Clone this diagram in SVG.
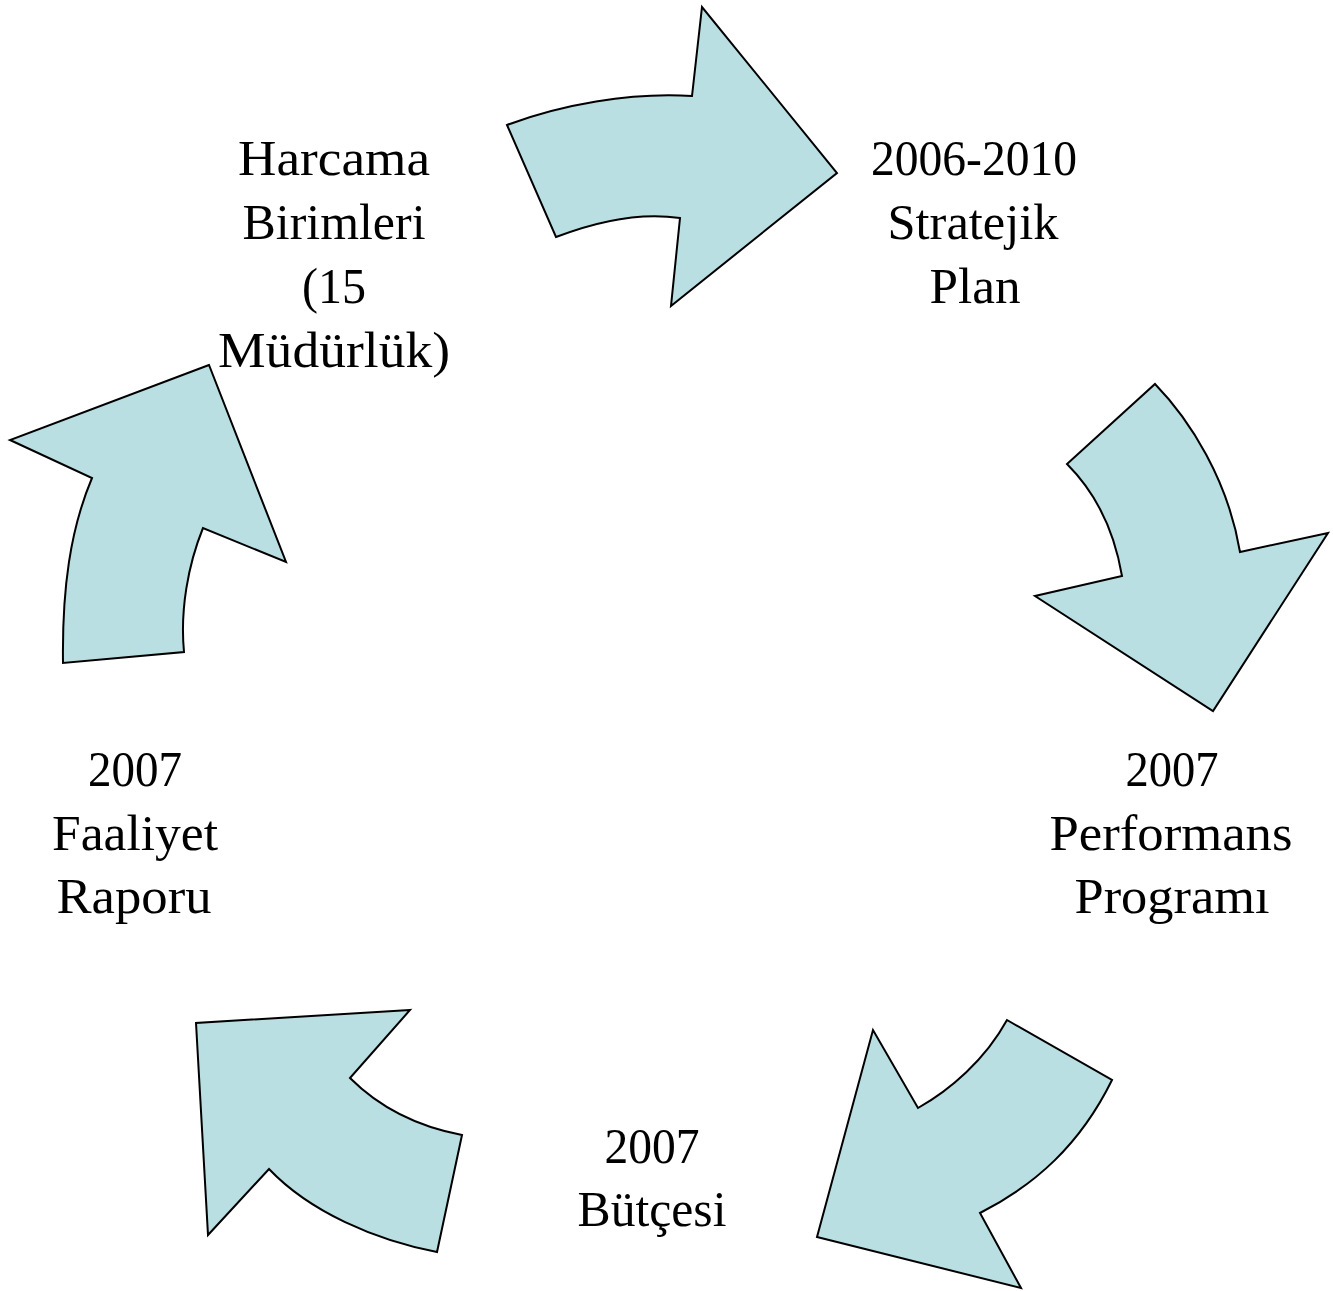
<svg xmlns="http://www.w3.org/2000/svg" width="1333" height="1291" viewBox="0 0 1333 1291">
<style>
.arr{fill:#b9dfe2;stroke:#000;stroke-width:2;stroke-linejoin:miter}
.t{font-family:"Liberation Serif","Times New Roman",serif;font-size:51px;fill:#000;text-anchor:middle}
</style>
<rect width="1333" height="1291" fill="#fff"/>
<g id="connectors">
<path id="arrow-top" class="arr" d="M507,125 C560,105 630,92 692,96 L702,7 L837,173 L671,306 L680,218 C640,212 595,222 556,237 Z"/>
<path id="arrow-right" class="arr" d="M1155,384 C1190,420 1228,480 1240,552 L1328,533 L1213,711 L1035,596 L1122,576 C1115,535 1098,495 1067,464 Z"/>
<path id="arrow-bottomright" class="arr" d="M1007,1020 L1112,1080 C1080,1145 1035,1185 980,1213 L1021,1288 L817,1237 L873,1030 L918,1108 C950,1090 985,1060 1007,1020 Z"/>
<path id="arrow-bottomleft" class="arr" d="M410,1010 L196,1023 L208,1235 L269,1169 C310,1212 375,1240 437,1252 L462,1135 C420,1127 380,1108 350,1078 Z"/>
<path id="arrow-left" class="arr" d="M209,365 L10,440 L92,478 C70,530 62,590 63,663 L184,652 C180,610 188,565 203,528 L286,562 Z"/>
</g>
<g id="node-harcama">
<text class="t" x="334" y="175" textLength="192" lengthAdjust="spacingAndGlyphs">Harcama</text>
<text class="t" x="334" y="239" textLength="183" lengthAdjust="spacingAndGlyphs">Birimleri</text>
<text class="t" x="334" y="303" textLength="64" lengthAdjust="spacingAndGlyphs">(15</text>
<text class="t" x="334" y="367" textLength="232" lengthAdjust="spacingAndGlyphs">Müdürlük)</text>
</g>
<g id="node-plan">
<text class="t" x="974" y="175" textLength="206" lengthAdjust="spacingAndGlyphs">2006-2010</text>
<text class="t" x="973" y="239" textLength="171" lengthAdjust="spacingAndGlyphs">Stratejik</text>
<text class="t" x="975" y="303" textLength="91" lengthAdjust="spacingAndGlyphs">Plan</text>
</g>
<g id="node-performans">
<text class="t" x="1172" y="786" textLength="93" lengthAdjust="spacingAndGlyphs">2007</text>
<text class="t" x="1171" y="850" textLength="243" lengthAdjust="spacingAndGlyphs">Performans</text>
<text class="t" x="1172" y="913" textLength="195" lengthAdjust="spacingAndGlyphs">Programı</text>
</g>
<g id="node-butce">
<text class="t" x="652" y="1163" textLength="95" lengthAdjust="spacingAndGlyphs">2007</text>
<text class="t" x="652" y="1226" textLength="149" lengthAdjust="spacingAndGlyphs">Bütçesi</text>
</g>
<g id="node-faaliyet">
<text class="t" x="135" y="786" textLength="94" lengthAdjust="spacingAndGlyphs">2007</text>
<text class="t" x="135" y="850" textLength="166" lengthAdjust="spacingAndGlyphs">Faaliyet</text>
<text class="t" x="134" y="913" textLength="155" lengthAdjust="spacingAndGlyphs">Raporu</text>
</g>
</svg>
